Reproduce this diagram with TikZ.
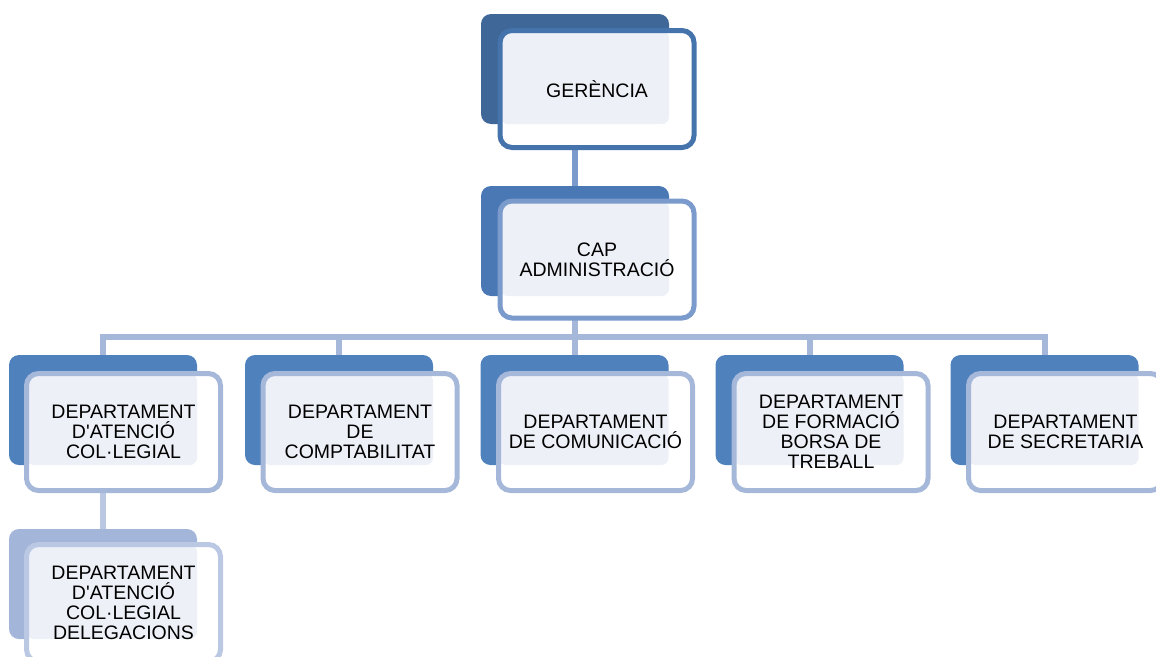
\documentclass[tikz,border=0pt]{standalone}
\usepackage{fontspec}
\setmainfont{Liberation Sans}
\usetikzlibrary{backgrounds}
\definecolor{topdark}{HTML}{3F6899}
\definecolor{topline}{HTML}{4573AC}
\definecolor{capdark}{HTML}{4A78B4}
\definecolor{capline}{HTML}{7B9BCC}
\definecolor{deptdark}{HTML}{4F81BD}
\definecolor{deptline}{HTML}{A5B8DA}
\definecolor{subdark}{HTML}{A3B5D8}
\definecolor{subline}{HTML}{BAC8E4}
\definecolor{lite}{HTML}{EDF0F7}
\tikzset{
  backbox/.style={fill=#1, rounded corners=10pt, minimum width=188pt, minimum height=110pt, inner sep=0pt},
  frontbox/.style={fill=white, line width=5pt, rounded corners=12pt, minimum width=194pt, minimum height=117pt,
    inner sep=0pt, align=center, font=\fontsize{19.5}{20}\selectfont,
    path picture={\fill[lite, rounded corners=8pt] (path picture bounding box.north west) rectangle (#1.south east);}},
  link/.style={line width=6pt, draw=#1},
}
\begin{document}
\begin{tikzpicture}[x=1pt, y=-1pt]

\useasboundingbox (0,0) rectangle (1156,656);
\clip (0,0) rectangle (1156,656);

\node[backbox=topdark] (gerb) at (575,69) {};
\node[frontbox=gerb, draw=topline] (ger) at (597,89) {GERÈNCIA};

\node[backbox=capdark] (capb) at (575,241) {};
\node[frontbox=capb, draw=capline] (cap) at (597,259.5) {CAP\\ADMINISTRACIÓ};

\node[backbox=deptdark] (d1b) at (103,410) {};
\node[frontbox=d1b, draw=deptline] (d1) at (123.5,432) {DEPARTAMENT\\D\textquotesingle ATENCIÓ\\COL·LEGIAL};
\node[backbox=deptdark] (d2b) at (339,410) {};
\node[frontbox=d2b, draw=deptline] (d2) at (360,432) {DEPARTAMENT\\DE\\COMPTABILITAT};
\node[backbox=deptdark] (d3b) at (574.5,410) {};
\node[frontbox=d3b, draw=deptline] (d3) at (595.5,432) {DEPARTAMENT\\DE COMUNICACIÓ};
\node[backbox=deptdark] (d4b) at (809.5,410) {};
\node[frontbox=d4b, draw=deptline] (d4) at (831,432) {DEPARTAMENT\\DE FORMACIÓ\\BORSA DE\\TREBALL};
\node[backbox=deptdark] (d5b) at (1044.5,410) {};
\node[frontbox=d5b, draw=deptline] (d5) at (1065.5,432) {DEPARTAMENT\\DE SECRETARIA};

\node[backbox=subdark] (d6b) at (103,584) {};
\node[frontbox=d6b, draw=subline] (d6) at (123.5,603) {DEPARTAMENT\\D\textquotesingle ATENCIÓ\\COL·LEGIAL\\DELEGACIONS};

\coordinate (bus) at (575,337);
\begin{scope}[on background layer]
\draw[link=capline] (gerb) -- (capb);
\draw[link=deptline] (capb) -- (bus);
\foreach \d in {d1b,d2b,d3b,d4b,d5b} {\draw[link=deptline] (bus) -| (\d);}
\draw[link=subline] (d1b) -- (d6b);
\end{scope}

\end{tikzpicture}
\end{document}
